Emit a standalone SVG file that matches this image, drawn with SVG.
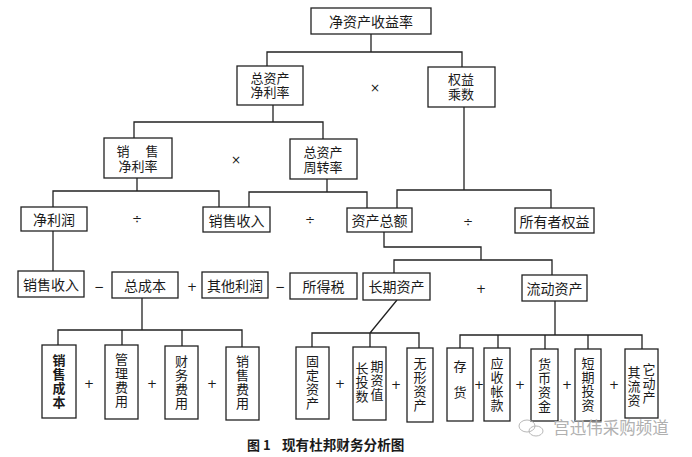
<svg xmlns="http://www.w3.org/2000/svg" width="692" height="457" viewBox="0 0 692 457">
<style>
.b{fill:#fff;stroke:#222;stroke-width:1.3}
.c{fill:none;stroke:#222;stroke-width:1.3}
text{font-family:"Noto Sans CJK SC","Noto Sans CJK JP",sans-serif;font-size:14px;fill:#1a1a1a;text-anchor:middle;dominant-baseline:central}
.t{font-family:"Liberation Sans","Noto Sans CJK SC",sans-serif;font-size:13px}
.op{font-family:"DejaVu Sans",sans-serif;font-size:12px}
.v{font-size:13px;writing-mode:vertical-rl;letter-spacing:1px}
</style>
<rect width="692" height="457" fill="#fff"/>
<g id="connectors">
<path class="c" d="M371 34V52M267 66V52H462V67"/>
<path class="c" d="M273 105V122M134 138V122H323V139"/>
<path class="c" d="M137 178V191M53 207V191H219V207"/>
<path class="c" d="M327 179V192M249 207V192H367V208"/>
<path class="c" d="M464 107V190M397 208V190H551V208"/>
<path class="c" d="M53 231V271"/>
<path class="c" d="M384 232V247H481V260M394 273V260H552V275"/>
<path class="c" d="M142 298V330M58 345V330H242V347M122 330V345M182 330V346"/>
<path class="c" d="M397 300L370 333M312 347V333H419V348M370 333V347"/>
<path class="c" d="M555 301V335M460 348V335H642V349M498 335V348M545 335V349M588 335V349"/>
</g>
<g id="roe"><rect class="b" x="311" y="8" width="120" height="26"/><text x="371" y="21">净资产收益率</text></g>
<g id="ta_npm"><rect class="b" x="237" y="66" width="66" height="39"/><text class="t" x="270" y="78">总资产</text><text class="t" x="270" y="92.5">净利率</text></g>
<g id="em"><rect class="b" x="428" y="67" width="67" height="40"/><text class="t" x="461" y="79.5">权益</text><text class="t" x="461" y="94">乘数</text></g>
<g id="snpm"><rect class="b" x="104" y="138" width="68" height="40"/><text class="t" x="123" y="151.5">销</text><text class="t" x="152" y="151.5">售</text><text class="t" x="138" y="166">净利率</text></g>
<g id="tat"><rect class="b" x="290" y="139" width="67" height="40"/><text class="t" x="323" y="152.5">总资产</text><text class="t" x="323" y="167">周转率</text></g>
<g id="np"><rect class="b" x="21" y="207" width="66" height="24"/><text x="54" y="219">净利润</text></g>
<g id="sr1"><rect class="b" x="203" y="207" width="67" height="25"/><text x="236.5" y="220">销售收入</text></g>
<g id="ta"><rect class="b" x="347" y="208" width="65" height="24"/><text x="379.5" y="220">资产总额</text></g>
<g id="oe"><rect class="b" x="515" y="208" width="79" height="25"/><text x="554.5" y="221">所有者权益</text></g>
<g id="sr2"><rect class="b" x="18" y="271" width="66" height="26"/><text x="51" y="284">销售收入</text></g>
<g id="tc"><rect class="b" x="112" y="272" width="66" height="26"/><text x="145" y="285">总成本</text></g>
<g id="op"><rect class="b" x="202" y="272" width="66" height="26"/><text x="235" y="285">其他利润</text></g>
<g id="tax"><rect class="b" x="290" y="273" width="67" height="26"/><text x="323.5" y="286">所得税</text></g>
<g id="lta"><rect class="b" x="363" y="273" width="67" height="27"/><text x="396.5" y="286">长期资产</text></g>
<g id="ca"><rect class="b" x="522" y="275" width="65" height="26"/><text x="554.5" y="288">流动资产</text></g>
<g id="cogs"><rect class="b" x="42" y="345" width="34" height="73"/><text class="v" x="59" y="382" style="font-weight:bold">销售成本</text></g>
<g id="adm"><rect class="b" x="105" y="345" width="33" height="74"/><text class="v" x="121.5" y="381">管理费用</text></g>
<g id="fin"><rect class="b" x="165" y="346" width="33" height="73"/><text class="v" x="181.5" y="383">财务费用</text></g>
<g id="sell"><rect class="b" x="226" y="347" width="33" height="73"/><text class="v" x="242.5" y="383">销售费用</text></g>
<g id="fa"><rect class="b" x="296" y="347" width="33" height="72"/><text class="v" x="312.5" y="383">固定资产</text></g>
<g id="lti"><rect class="b" x="353" y="347" width="33" height="73"/><text class="v" x="362" y="382.5">长投数</text><text class="v" x="377" y="380.5">期资值</text></g>
<g id="ia"><rect class="b" x="407" y="348" width="26" height="74"/><text class="v" x="420" y="385">无形资产</text></g>
<g id="inv"><rect class="b" x="447" y="348" width="26" height="73"/><text class="v" x="460" y="385.5" style="letter-spacing:13px">存货</text></g>
<g id="ar"><rect class="b" x="484" y="348" width="26" height="73"/><text class="v" x="497" y="385">应收帐款</text></g>
<g id="cash"><rect class="b" x="531" y="349" width="27" height="72"/><text class="v" x="544.5" y="386">货币资金</text></g>
<g id="sti"><rect class="b" x="575" y="349" width="26" height="72"/><text class="v" x="588" y="385">短期投资</text></g>
<g id="oca"><rect class="b" x="625" y="349" width="33" height="69"/><text class="v" x="634" y="386.5">其流资</text><text class="v" x="649" y="383.5">它动产</text></g>
<g id="operators">
<text class="op" x="375" y="88">×</text>
<text class="op" x="236" y="160">×</text>
<text class="op" x="137" y="219">÷</text>
<text class="op" x="310" y="220">÷</text>
<text class="op" x="468" y="222">÷</text>
<text class="op" x="99" y="287">−</text>
<text class="op" x="280" y="287">−</text>
<text class="op" x="192" y="287">+</text>
<text class="op" x="481" y="289">+</text>
<text class="op" x="89" y="384">+</text>
<text class="op" x="152" y="384">+</text>
<text class="op" x="212" y="384">+</text>
<text class="op" x="340" y="384">+</text>
<text class="op" x="396" y="385">+</text>
<text class="op" x="479" y="385">+</text>
<text class="op" x="520" y="385">+</text>
<text class="op" x="567" y="385">+</text>
<text class="op" x="614" y="385">+</text>
</g>
<g id="watermark" fill="none" stroke="#b8b8b8" stroke-width="1">
<ellipse cx="527" cy="426" rx="8" ry="6"/>
<ellipse cx="536" cy="431" rx="7" ry="5"/>
<text x="611" y="427" style="font-size:16.5px;fill:#b0b0b0;stroke:none">宫迅伟采购频道</text>
</g>
<g id="caption">
<text x="247" y="444" style="text-anchor:start;font-weight:bold;font-size:13px">图 1</text>
<text x="282" y="444" style="text-anchor:start;font-weight:bold;font-size:13.6px">现有杜邦财务分析图</text>
</g>
</svg>
